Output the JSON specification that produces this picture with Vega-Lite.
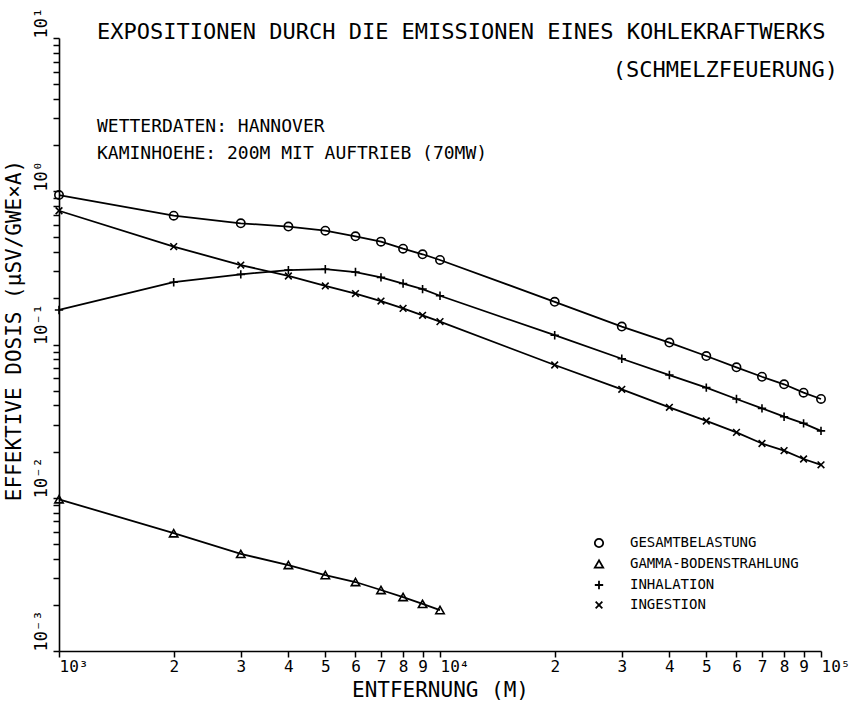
{
  "$schema": "https://vega.github.io/schema/vega-lite/v6.json",
  "width": 762,
  "height": 613,
  "autosize": {"type": "none"},
  "padding": {"left": 59, "top": 38, "right": 31, "bottom": 50},
  "background": "white",
  "config": {
    "view": {"stroke": null},
    "font": "DejaVu Sans Mono",
    "axis": {
      "grid": false,
      "domainColor": "black",
      "domainWidth": 1.6,
      "tickColor": "black",
      "tickWidth": 1.5,
      "tickSize": 6,
      "labelColor": "black",
      "titleColor": "black",
      "labelFont": "DejaVu Sans Mono",
      "titleFont": "DejaVu Sans Mono",
      "titleFontWeight": "normal",
      "labelOverlap": false,
      "labelFlush": false,
      "labelBound": false
    }
  },
  "datasets": {
    "curves": [
      {"series": "GESAMTBELASTUNG", "x": 1000, "y": 0.945},
      {"series": "GESAMTBELASTUNG", "x": 2000, "y": 0.693},
      {"series": "GESAMTBELASTUNG", "x": 3000, "y": 0.618},
      {"series": "GESAMTBELASTUNG", "x": 4000, "y": 0.588},
      {"series": "GESAMTBELASTUNG", "x": 5000, "y": 0.553},
      {"series": "GESAMTBELASTUNG", "x": 6000, "y": 0.508},
      {"series": "GESAMTBELASTUNG", "x": 7000, "y": 0.469},
      {"series": "GESAMTBELASTUNG", "x": 8000, "y": 0.422},
      {"series": "GESAMTBELASTUNG", "x": 9000, "y": 0.388},
      {"series": "GESAMTBELASTUNG", "x": 10000, "y": 0.356},
      {"series": "GESAMTBELASTUNG", "x": 20000, "y": 0.190},
      {"series": "GESAMTBELASTUNG", "x": 30000, "y": 0.131},
      {"series": "GESAMTBELASTUNG", "x": 40000, "y": 0.103},
      {"series": "GESAMTBELASTUNG", "x": 50000, "y": 0.0841},
      {"series": "GESAMTBELASTUNG", "x": 60000, "y": 0.0710},
      {"series": "GESAMTBELASTUNG", "x": 70000, "y": 0.0616},
      {"series": "GESAMTBELASTUNG", "x": 80000, "y": 0.0550},
      {"series": "GESAMTBELASTUNG", "x": 90000, "y": 0.0485},
      {"series": "GESAMTBELASTUNG", "x": 100000, "y": 0.0441},
      {"series": "GAMMA-BODENSTRAHLUNG", "x": 1000, "y": 0.00977},
      {"series": "GAMMA-BODENSTRAHLUNG", "x": 2000, "y": 0.00587},
      {"series": "GAMMA-BODENSTRAHLUNG", "x": 3000, "y": 0.00430},
      {"series": "GAMMA-BODENSTRAHLUNG", "x": 4000, "y": 0.00364},
      {"series": "GAMMA-BODENSTRAHLUNG", "x": 5000, "y": 0.00313},
      {"series": "GAMMA-BODENSTRAHLUNG", "x": 6000, "y": 0.00282},
      {"series": "GAMMA-BODENSTRAHLUNG", "x": 7000, "y": 0.00250},
      {"series": "GAMMA-BODENSTRAHLUNG", "x": 8000, "y": 0.00225},
      {"series": "GAMMA-BODENSTRAHLUNG", "x": 9000, "y": 0.00203},
      {"series": "GAMMA-BODENSTRAHLUNG", "x": 10000, "y": 0.00185},
      {"series": "INHALATION", "x": 1000, "y": 0.168},
      {"series": "INHALATION", "x": 2000, "y": 0.255},
      {"series": "INHALATION", "x": 3000, "y": 0.287},
      {"series": "INHALATION", "x": 4000, "y": 0.306},
      {"series": "INHALATION", "x": 5000, "y": 0.310},
      {"series": "INHALATION", "x": 6000, "y": 0.297},
      {"series": "INHALATION", "x": 7000, "y": 0.274},
      {"series": "INHALATION", "x": 8000, "y": 0.250},
      {"series": "INHALATION", "x": 9000, "y": 0.230},
      {"series": "INHALATION", "x": 10000, "y": 0.208},
      {"series": "INHALATION", "x": 20000, "y": 0.115},
      {"series": "INHALATION", "x": 30000, "y": 0.0807},
      {"series": "INHALATION", "x": 40000, "y": 0.0632},
      {"series": "INHALATION", "x": 50000, "y": 0.0523},
      {"series": "INHALATION", "x": 60000, "y": 0.0441},
      {"series": "INHALATION", "x": 70000, "y": 0.0383},
      {"series": "INHALATION", "x": 80000, "y": 0.0338},
      {"series": "INHALATION", "x": 90000, "y": 0.0306},
      {"series": "INHALATION", "x": 100000, "y": 0.0273},
      {"series": "INGESTION", "x": 1000, "y": 0.746},
      {"series": "INGESTION", "x": 2000, "y": 0.435},
      {"series": "INGESTION", "x": 3000, "y": 0.330},
      {"series": "INGESTION", "x": 4000, "y": 0.280},
      {"series": "INGESTION", "x": 5000, "y": 0.241},
      {"series": "INGESTION", "x": 6000, "y": 0.215},
      {"series": "INGESTION", "x": 7000, "y": 0.192},
      {"series": "INGESTION", "x": 8000, "y": 0.172},
      {"series": "INGESTION", "x": 9000, "y": 0.155},
      {"series": "INGESTION", "x": 10000, "y": 0.141},
      {"series": "INGESTION", "x": 20000, "y": 0.0735},
      {"series": "INGESTION", "x": 30000, "y": 0.0510},
      {"series": "INGESTION", "x": 40000, "y": 0.0389},
      {"series": "INGESTION", "x": 50000, "y": 0.0317},
      {"series": "INGESTION", "x": 60000, "y": 0.0267},
      {"series": "INGESTION", "x": 70000, "y": 0.0226},
      {"series": "INGESTION", "x": 80000, "y": 0.0203},
      {"series": "INGESTION", "x": 90000, "y": 0.0179},
      {"series": "INGESTION", "x": 100000, "y": 0.0164}
    ]
  },
  "layer": [
    {
      "data": {"name": "curves"},
      "mark": {"type": "line", "color": "black", "strokeWidth": 1.8},
      "encoding": {
        "x": {
          "field": "x",
          "type": "quantitative",
          "scale": {"type": "log", "domain": [1000, 100000], "nice": false},
          "axis": {
            "title": "ENTFERNUNG (M)",
            "titleFontSize": 21,
            "titleBaseline": "middle",
            "titleY": 39,
            "values": [1000, 2000, 3000, 4000, 5000, 6000, 7000, 8000, 9000, 10000, 20000, 30000, 40000, 50000, 60000, 70000, 80000, 90000, 100000],
            "labelExpr": "datum.value==1000?'10³':datum.value==10000?'10⁴':datum.value==100000?'10⁵':datum.value<10000?format(datum.value/1000,'d'):format(datum.value/10000,'d')",
            "labelAlign": {"condition": {"test": "datum.value==1000||datum.value==10000||datum.value==100000", "value": "left"}, "value": "center"},
            "labelFontSize": 16,
            "labelPadding": 1,
            "labelBaseline": "top"
          }
        },
        "y": {
          "field": "y",
          "type": "quantitative",
          "scale": {"type": "log", "domain": [0.001, 10], "nice": false},
          "axis": {
            "title": "EFFEKTIVE DOSIS (µSV/GWE×A)",
            "titleFontSize": 21,
            "titleAngle": -90,
            "titleBaseline": "middle",
            "titleAlign": "center",
            "titleX": -45,
            "titleY": 292,
            "values": [0.001, 0.002, 0.003, 0.004, 0.005, 0.006, 0.007, 0.008, 0.009, 0.01, 0.02, 0.03, 0.04, 0.05, 0.06, 0.07, 0.08, 0.09, 0.1, 0.2, 0.3, 0.4, 0.5, 0.6, 0.7, 0.8, 0.9, 1, 2, 3, 4, 5, 6, 7, 8, 9, 10],
            "labelExpr": "datum.value==10?'10¹':datum.value==1?'10⁰':datum.value==0.1?'10⁻¹':datum.value==0.01?'10⁻²':datum.value==0.001?'10⁻³':''",
            "labelAngle": -90,
            "labelAlign": "left",
            "labelBaseline": "bottom",
            "labelFontSize": 17,
            "labelPadding": 3
          }
        },
        "detail": {"field": "series"}
      }
    },
    {
      "data": {"name": "curves"},
      "mark": {"type": "point", "filled": false, "color": "black", "strokeWidth": 1.6, "size": 70, "opacity": 1},
      "encoding": {
        "x": {"field": "x", "type": "quantitative"},
        "y": {"field": "y", "type": "quantitative"},
        "shape": {
          "field": "series",
          "type": "nominal",
          "scale": {
            "domain": ["GESAMTBELASTUNG", "GAMMA-BODENSTRAHLUNG", "INHALATION", "INGESTION"],
            "range": ["circle", "triangle-up", "M-1,0L1,0M0,-1L0,1", "M-0.8,-0.8L0.8,0.8M-0.8,0.8L0.8,-0.8"]
          },
          "legend": {
            "title": null,
            "orient": "none",
            "legendX": 533,
            "legendY": 498,
            "padding": 0,
            "symbolStrokeColor": "black",
            "symbolStrokeWidth": 1.8,
            "symbolSize": 70,
            "labelFont": "DejaVu Sans Mono",
            "labelFontSize": 14,
            "labelColor": "black",
            "labelLimit": 0,
            "labelOffset": 24,
            "rowPadding": 5
          }
        }
      }
    },
    {
      "data": {"values": [{}]},
      "mark": {"type": "text", "align": "left", "baseline": "middle", "fontSize": 22, "font": "DejaVu Sans Mono", "color": "black", "text": "EXPOSITIONEN DURCH DIE EMISSIONEN EINES KOHLEKRAFTWERKS"},
      "encoding": {"x": {"datum": 1258}, "y": {"datum": 10.94}}
    },
    {
      "data": {"values": [{}]},
      "mark": {"type": "text", "align": "right", "baseline": "middle", "fontSize": 22, "font": "DejaVu Sans Mono", "color": "black", "text": "(SCHMELZFEUERUNG)"},
      "encoding": {"x": {"datum": 110800}, "y": {"datum": 6.18}}
    },
    {
      "data": {"values": [{}]},
      "mark": {"type": "text", "align": "left", "baseline": "middle", "fontSize": 18, "font": "DejaVu Sans Mono", "color": "black", "text": "WETTERDATEN: HANNOVER"},
      "encoding": {"x": {"datum": 1258}, "y": {"datum": 2.626}}
    },
    {
      "data": {"values": [{}]},
      "mark": {"type": "text", "align": "left", "baseline": "middle", "fontSize": 18, "font": "DejaVu Sans Mono", "color": "black", "text": "KAMINHOEHE: 200M MIT AUFTRIEB (70MW)"},
      "encoding": {"x": {"datum": 1258}, "y": {"datum": 1.75}}
    }
  ]
}
